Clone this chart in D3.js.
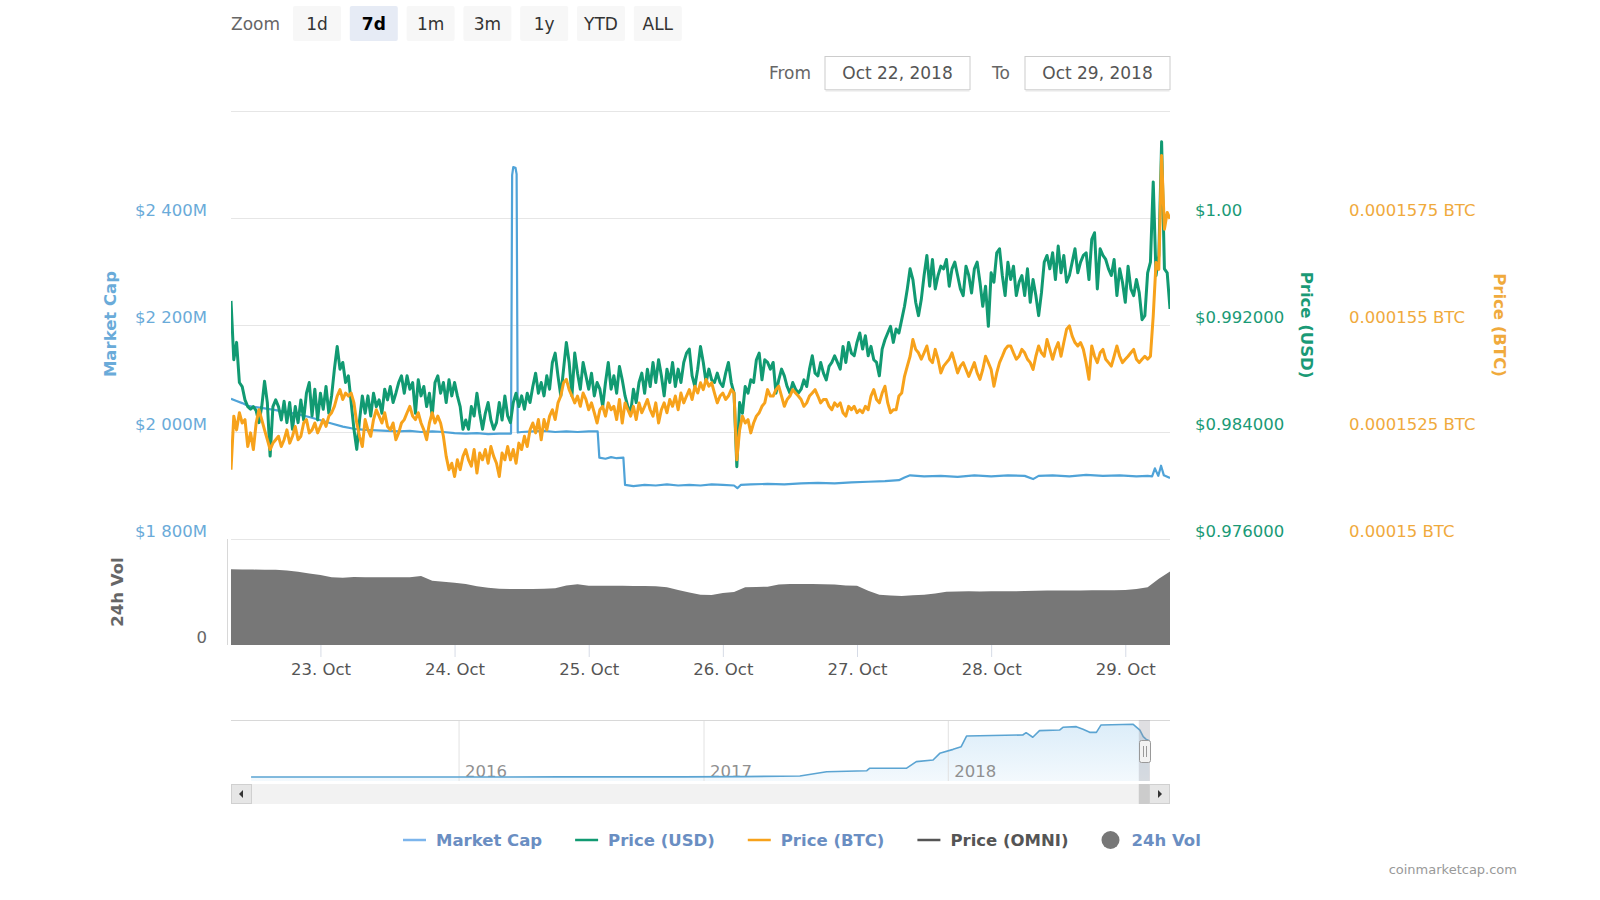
<!DOCTYPE html>
<html><head><meta charset="utf-8">
<script src="https://cdn.jsdelivr.net/npm/d3@7"></script>
<style>
body{margin:0;background:#fff;}
svg{display:block;}
</style></head><body>
<svg id="c" width="1600" height="900"></svg>
<script>
// ---------------- DATA ----------------
const startTime = "2018-10-22T08:00:00Z";
const endTime   = "2018-10-29T08:00:00Z";
const priceStepHours = 0.5;
// Price (USD), every 30 minutes
const priceUSD = [
0.9938,0.9894,0.9907,0.9877,0.9874,0.9864,0.9859,0.9857,0.9859,0.9856,
0.9847,0.9859,0.9878,0.9862,0.9822,0.9859,0.9864,0.9859,0.9849,0.9863,
0.9847,0.9862,0.9842,0.9859,0.9847,0.9864,0.9849,0.9869,0.9877,0.9852,
0.9872,0.9849,0.9869,0.9857,0.9874,0.9854,0.9867,0.9887,0.9904,0.9887,
0.9892,0.9877,0.9882,0.9862,0.9842,0.9827,0.9849,0.9867,0.9854,0.9867,
0.9852,0.9869,0.9859,0.9864,0.9854,0.9872,0.9864,0.9874,0.9862,0.9869,
0.9877,0.9882,0.9869,0.9882,0.9872,0.9877,0.9854,0.9879,0.9867,0.9874,
0.9859,0.9869,0.9852,0.9877,0.9882,0.9869,0.9877,0.9862,0.9879,0.9867,
0.9877,0.9867,0.9859,0.9842,0.9849,0.9842,0.9859,0.9852,0.9869,0.9854,
0.9842,0.9854,0.9862,0.9849,0.9842,0.9847,0.9862,0.9849,0.9867,0.9852,
0.9847,0.9862,0.9869,0.9859,0.9867,0.9857,0.9869,0.9862,0.9874,0.9884,
0.9869,0.9877,0.9867,0.9882,0.9872,0.9892,0.9899,0.9882,0.9867,0.9887,
0.9907,0.9892,0.9867,0.9899,0.9884,0.9872,0.9892,0.9882,0.9872,0.9884,
0.9867,0.9877,0.9872,0.9859,0.9877,0.9892,0.9872,0.9882,0.9869,0.9889,
0.9879,0.9867,0.9859,0.9854,0.9872,0.9862,0.9877,0.9884,0.9869,0.9887,
0.9874,0.9892,0.9877,0.9894,0.9882,0.9867,0.9887,0.9877,0.9892,0.9874,
0.9887,0.9877,0.9892,0.9899,0.9902,0.9882,0.9874,0.9887,0.9904,0.9892,
0.9877,0.9887,0.9879,0.9877,0.9884,0.9877,0.9874,0.9884,0.9892,0.9877,
0.9869,0.9814,0.9862,0.9854,0.9874,0.9869,0.9879,0.9877,0.9894,0.9899,
0.9879,0.9894,0.9892,0.9887,0.9892,0.9869,0.9879,0.9887,0.9882,0.9874,
0.9869,0.9877,0.9872,0.9869,0.9872,0.9879,0.9874,0.9887,0.9897,0.9884,
0.9882,0.9892,0.9884,0.9879,0.9889,0.9892,0.9897,0.9892,0.9887,0.9904,
0.9892,0.9907,0.9899,0.9897,0.9907,0.9914,0.9902,0.9912,0.9897,0.9904,
0.9894,0.9892,0.9882,0.9902,0.9909,0.9914,0.9919,0.9907,0.9917,0.9914,
0.9924,0.9934,0.9947,0.9962,0.9954,0.9937,0.9927,0.9939,0.9957,0.9972,
0.9949,0.9969,0.9947,0.9957,0.9964,0.9962,0.9969,0.9949,0.9962,0.9967,
0.9957,0.9947,0.9942,0.9964,0.9957,0.9944,0.9962,0.9967,0.9952,0.9934,
0.9949,0.9919,0.9959,0.9952,0.9974,0.9977,0.9957,0.9942,0.9967,0.9954,
0.9964,0.9942,0.9952,0.9957,0.9942,0.9962,0.9937,0.9954,0.9942,0.9927,
0.9944,0.9967,0.9972,0.9962,0.9974,0.9954,0.9979,0.9959,0.9972,0.9952,
0.9957,0.9967,0.9977,0.9959,0.9967,0.9972,0.9974,0.9954,0.9984,0.9989,
0.9947,0.9977,0.9972,0.9969,0.9962,0.9957,0.9969,0.9942,0.9962,0.9952,
0.9937,0.9964,0.9947,0.9942,0.9954,0.9944,0.9924,0.9927,0.9959,0.9967,
1.0027,0.9957,0.9972,1.0057,0.9962,0.9959,0.9932];
// Price (BTC) in satoshi (1e-8 BTC), every 30 minutes
const priceBTCsat = [
15162,15287,15255,15295,15271,15279,15216,15248,15209,15271,
15302,15279,15255,15232,15209,15224,15232,15240,15216,15232,
15255,15224,15240,15263,15232,15240,15271,15279,15248,15255,
15271,15248,15263,15279,15263,15287,15295,15310,15334,15349,
15326,15341,15334,15341,15318,15271,15240,15216,15279,15255,
15240,15279,15302,15287,15271,15295,15263,15255,15271,15232,
15248,15271,15279,15295,15310,15287,15279,15295,15271,15255,
15232,15271,15295,15271,15287,15271,15240,15193,15162,15177,
15146,15185,15162,15193,15209,15185,15170,15209,15154,15201,
15185,15209,15177,15216,15193,15177,15146,15201,15185,15216,
15185,15209,15177,15224,15209,15240,15216,15255,15271,15248,
15279,15232,15279,15255,15287,15302,15279,15318,15334,15365,
15373,15349,15334,15318,15334,15310,15341,15326,15302,15318,
15295,15271,15302,15310,15287,15318,15302,15310,15279,15326,
15271,15318,15302,15287,15310,15279,15318,15295,15310,15326,
15302,15287,15318,15271,15302,15318,15295,15326,15310,15334,
15302,15341,15318,15334,15349,15326,15357,15341,15365,15349,
15373,15357,15365,15341,15318,15334,15341,15326,15334,15349,
15341,15185,15255,15287,15271,15279,15248,15271,15287,15295,
15310,15318,15349,15334,15334,15349,15357,15334,15310,15326,
15334,15349,15341,15334,15326,15310,15318,15334,15341,15349,
15334,15318,15326,15326,15310,15302,15318,15310,15318,15295,
15287,15310,15302,15310,15295,15302,15295,15310,15302,15334,
15349,15326,15318,15341,15357,15318,15295,15302,15302,15334,
15341,15380,15404,15427,15466,15443,15435,15420,15435,15451,
15420,15412,15443,15420,15388,15404,15412,15420,15435,15412,
15388,15404,15412,15396,15380,15396,15412,15388,15373,15396,
15427,15412,15396,15357,15388,15412,15427,15443,15451,15451,
15435,15420,15427,15443,15435,15420,15412,15396,15427,15451,
15435,15427,15466,15443,15420,15443,15459,15427,15459,15490,
15498,15474,15459,15451,15459,15443,15412,15373,15451,15427,
15412,15435,15443,15420,15412,15404,15427,15451,15427,15412,
15420,15427,15435,15443,15420,15412,15420,15427,15420,15427,
15521,15646,15630,15896,15724,15763,15748];
// Market Cap ($M): hours after start, value
const mcapHours = [0,1,2,3,4,6,8,10,12,14,16,18,20,22,24,26,28,30,32,34,36,38,40,42,44,46,48,
  50.1,50.3,50.5,50.9,51.1,51.3,52,54,56,58,60,62,64,65.6,65.9,67,68,69,70.2,70.5,72,74,76,78,80,82,84,86,88,90,
  90.6,91.2,93,96,99,102,105,108,111,114,117,119.5,120.5,121.5,124,127,130,133,136,139,142,143.5,144.5,147,150,153,
  156,159,162,164,164.8,165.3,165.9,166.4,166.9,168];
const mcapValues = [2062,2058,2054,2049,2047,2044,2041,2037,2033,2028,2022,2016,2010,2006,2004,2003,2002,2001,2002,2000,2001,2000,1998,1997,1998,1996,1997,
  1997,2480,2495,2494,2482,1999,2000,2001,2002,2000,2001,2000,2001,2001,1952,1950,1953,1951,1952,1901,1899,1901,1900,1902,1900,1901,1900,1902,1901,1900,
  1895,1901,1902,1903,1902,1904,1905,1904,1906,1907,1908,1910,1915,1919,1917,1918,1916,1919,1917,1919,1918,1912,1918,1919,1917,1920,1918,
  1919,1917,1918,1917,1932,1918,1937,1919,1914];
// 24h Vol ($M), every 2 hours
const volStepHours = 2;
const volume24h = [2860,2850,2845,2840,2835,2810,2760,2700,2640,2560,2540,2570,2560,2560,2560,2555,2560,2600,2420,2390,
  2350,2300,2220,2160,2120,2110,2115,2110,2120,2140,2250,2290,2240,2235,2240,2235,2230,2225,2220,2180,
  2080,1980,1900,1890,1960,2000,2180,2190,2200,2280,2300,2300,2300,2295,2280,2250,2240,2050,1900,1870,
  1850,1880,1900,1940,2010,2020,2025,2020,2030,2025,2030,2035,2050,2055,2055,2060,2060,2070,2065,2070,
  2080,2110,2180,2500,2770];
// Navigator: full history of Market Cap ($M)
const navStart = "2015-01-26", navEnd = "2018-11-29";
const navDates = ["2015-02-25","2015-12-01","2016-06-01","2016-12-01","2017-03-01","2017-05-25","2017-07-04","2017-09-02","2017-09-06","2017-10-31",
  "2017-11-15","2017-12-10","2017-12-20","2018-01-09","2018-01-21","2018-01-29","2018-04-23","2018-04-28","2018-05-08","2018-05-18",
  "2018-06-17","2018-06-22","2018-07-12","2018-07-22","2018-08-01","2018-08-11","2018-08-18","2018-10-05","2018-10-15","2018-10-20",
  "2018-10-24","2018-10-29"];
const navValues = [0.25,1,5,8,20,53,280,333,460,460,
  810,900,1250,1460,1600,2165,2220,2340,2100,2450,
  2480,2625,2660,2520,2360,2360,2750,2785,2480,2130,
  2000,1915];
// Axis ticks
const mcapGrid  = [1800,2000,2200,2400,2600];
const mcapTicks = [1800,2000,2200,2400];
const usdTicks  = [0.976,0.984,0.992,1.00];
const btcTicks  = [0.00015,0.0001525,0.000155,0.0001575];
const zoomButtons = ["1d","7d","1m","3m","1y","YTD","ALL"];
const selectedZoom = "7d";
const fromLabel = "Oct 22, 2018", toLabel = "Oct 29, 2018";
const legendNames = ["Market Cap","Price (USD)","Price (BTC)","Price (OMNI)","24h Vol"];

// ---------------- STYLE / LAYOUT ----------------
const FONT = '"DejaVu Sans", sans-serif';
const C = {mcap:"#4fa3d8", usd:"#119a72", btc:"#f7a21b", omni:"#555555", vol:"#777777",
  mcapTxt:"#6aabd9", usdTxt:"#1a9a76", btcTxt:"#f0aa3c", grid:"#e6e6e6", legendTxt:"#6a8ec2"};
const legendColors = ["#7cb5ec", C.usd, C.btc, C.omni, C.vol];
const legendTextColors = [C.legendTxt, C.legendTxt, C.legendTxt, "#555555", C.legendTxt];
const L=231, R=1170, T=111, B=539, VB=645;
const H = 3600*1000;
const svg = d3.select("#c").style("font-family", FONT);
const t0 = new Date(startTime), t1 = new Date(endTime);

const x  = d3.scaleUtc().domain([t0,t1]).range([L,R]);
const yM = d3.scaleLinear().domain([1800,2600]).range([B,T]);
const yU = d3.scaleLinear().domain([0.976,1.008]).range([B,T]);
const yB = d3.scaleLinear().domain([0.00015,0.00016]).range([B,T]);
const yV = d3.scaleLinear().domain([0,4000]).range([VB,B]);

function styleAxis(g, color, size, anchor){
  g.attr("font-family", null).attr("font-size", null);
  g.select(".domain").remove();
  g.selectAll("text").attr("fill", color).style("font-size", size+"px").style("font-family", FONT);
  if(anchor) g.selectAll("text").attr("text-anchor", anchor);
}

// ---- range selector ----
svg.append("text").attr("x",231).attr("y",30).attr("fill","#666").style("font-size","17px").text("Zoom");
zoomButtons.forEach((b,i)=>{
  const bx = 293 + i*56.8;
  const sel = b===selectedZoom;
  svg.append("rect").attr("x",bx).attr("y",6).attr("width",48).attr("height",35).attr("rx",2)
    .attr("fill", sel ? "#e6ebf5" : "#f7f7f7");
  svg.append("text").attr("x",bx+24).attr("y",30).attr("text-anchor","middle")
    .attr("fill", sel ? "#000" : "#333").style("font-size","17px").style("font-weight", sel?"bold":"normal").text(b);
});
svg.append("text").attr("x",811).attr("y",79).attr("text-anchor","end").attr("fill","#666").style("font-size","17px").text("From");
svg.append("text").attr("x",1010).attr("y",79).attr("text-anchor","end").attr("fill","#666").style("font-size","17px").text("To");
[[824.5,fromLabel],[1024.5,toLabel]].forEach(([bx,lab])=>{
  svg.append("rect").attr("x",bx+0.5).attr("y",56.5).attr("width",145).attr("height",33).attr("fill","#fff").attr("stroke","#cccccc");
  svg.append("line").attr("x1",bx+1).attr("x2",bx+145).attr("y1",90.5).attr("y2",90.5).attr("stroke","#e8e8e8").attr("stroke-width",2);
  svg.append("text").attr("x",bx+73).attr("y",79).attr("text-anchor","middle").attr("fill","#555").style("font-size","17px").text(lab);
});

// ---- grid ----
svg.append("g").attr("transform",`translate(${L},0)`)
  .call(d3.axisLeft(yM).tickValues(mcapGrid).tickSize(-(R-L)).tickFormat(""))
  .call(g=>{g.select(".domain").remove(); g.selectAll("line").attr("stroke",C.grid);});

// ---- volume ----
const volData = volume24h.map((v,i)=>({t:new Date(+t0 + i*volStepHours*H), v}));
svg.append("path").datum(volData).attr("fill",C.vol)
  .attr("d", d3.area().x(d=>x(d.t)).y0(yV(0)).y1(d=>yV(d.v)));
svg.append("line").attr("x1",227.5).attr("x2",227.5).attr("y1",B).attr("y2",VB).attr("stroke","#d8d8d8");

// ---- lines ----
svg.append("clipPath").attr("id","clip").append("rect").attr("x",L).attr("y",T-10).attr("width",R-L).attr("height",B-T+10);
const plot = svg.append("g").attr("clip-path","url(#clip)");
const mcapData = mcapHours.map((h,i)=>({t:new Date(+t0 + h*H), v:mcapValues[i]}));
const usdData = priceUSD.map((v,i)=>({t:new Date(+t0 + i*priceStepHours*H), v}));
const btcData = priceBTCsat.map((v,i)=>({t:new Date(+t0 + i*priceStepHours*H), v:v*1e-8}));
plot.append("path").datum(mcapData).attr("fill","none").attr("stroke",C.mcap).attr("stroke-width",2.2)
  .attr("stroke-linejoin","round").attr("d", d3.line().x(d=>x(d.t)).y(d=>yM(d.v)));
plot.append("path").datum(usdData).attr("fill","none").attr("stroke",C.usd).attr("stroke-width",3)
  .attr("stroke-linejoin","round").attr("d", d3.line().x(d=>x(d.t)).y(d=>yU(d.v)));
plot.append("path").datum(btcData).attr("fill","none").attr("stroke",C.btc).attr("stroke-width",3)
  .attr("stroke-linejoin","round").attr("d", d3.line().x(d=>x(d.t)).y(d=>yB(d.v)));

// ---- axes ----
const fmtM = d => "$" + d3.format(",")(d).replace(/,/g," ") + "M";
svg.append("g").attr("transform","translate(207,0)")
  .call(d3.axisLeft(yM).tickValues(mcapTicks).tickSize(0).tickPadding(0).tickFormat(fmtM))
  .call(g=>{styleAxis(g,C.mcapTxt,16.5); g.selectAll("text").attr("dy",null).attr("y",-3);});
svg.append("g").attr("transform","translate(207,0)")
  .call(d3.axisLeft(yV).tickValues([0]).tickSize(0).tickPadding(0))
  .call(g=>{styleAxis(g,"#666",16.5); g.selectAll("text").attr("dy",null).attr("y",-3);});
svg.append("g").attr("transform","translate(1195,0)")
  .call(d3.axisRight(yU).tickValues(usdTicks).tickSize(0).tickPadding(0).tickFormat(d=> d===1 ? "$1.00" : "$"+d.toFixed(6)))
  .call(g=>{styleAxis(g,C.usdTxt,16.5); g.selectAll("text").attr("dy",null).attr("y",-3);});
svg.append("g").attr("transform","translate(1349,0)")
  .call(d3.axisRight(yB).tickValues(btcTicks).tickSize(0).tickPadding(0).tickFormat(d=> String(+d.toFixed(8)) + " BTC"))
  .call(g=>{styleAxis(g,C.btcTxt,16.5); g.selectAll("text").attr("dy",null).attr("y",-3);});
svg.append("g").attr("transform",`translate(0,${VB})`)
  .call(d3.axisBottom(x).ticks(d3.utcDay.every(1)).tickFormat(d3.utcFormat("%d. %b")).tickSize(12).tickPadding(6))
  .call(g=>{styleAxis(g,"#555",16.5); g.selectAll("line").attr("stroke","#d6dbe6");});

// axis titles
function rotTitle(txt, cx, cy, ang, color){
  svg.append("text").attr("transform",`translate(${cx},${cy}) rotate(${ang})`).attr("text-anchor","middle")
    .attr("fill",color).style("font-size","16.5px").style("font-weight","bold").text(txt);
}
rotTitle("Market Cap", 116, 324, -90, C.mcapTxt);
rotTitle("24h Vol", 123, 592, -90, "#666");
rotTitle("Price (USD)", 1301, 325, 90, C.usdTxt);
rotTitle("Price (BTC)", 1494, 325, 90, C.btcTxt);

// ---- navigator ----
const NT=720, NB=781;
const navX = d3.scaleUtc().domain([new Date(navStart+"T00:00:00Z"), new Date(navEnd+"T00:00:00Z")]).range([L,R]);
const navY = d3.scaleLinear().domain([0,2800]).range([777,724]);
const navData = navDates.map((d,i)=>({t:new Date(d+"T00:00:00Z"), v:navValues[i]}));
const defs = svg.append("defs");
const grad = defs.append("linearGradient").attr("id","navg").attr("x1",0).attr("y1",0).attr("x2",0).attr("y2",1);
grad.append("stop").attr("offset","0%").attr("stop-color","#dcedf9");
grad.append("stop").attr("offset","100%").attr("stop-color","#f3f9fd");
svg.append("path").datum(navData).attr("fill","url(#navg)")
  .attr("d", d3.area().x(d=>navX(d.t)).y0(NB).y1(d=>navY(d.v)));
svg.append("g").attr("transform",`translate(0,${NT})`)
  .call(d3.axisBottom(navX).ticks(d3.utcYear.every(1)).tickFormat(d3.utcFormat("%Y")).tickSize(NB-NT))
  .call(g=>{styleAxis(g,"#909090",16.5,"start"); g.selectAll("line").attr("stroke","#e2e2e2");
    g.selectAll("text").attr("x",6).attr("y",57).attr("dy",null);});
svg.append("path").datum(navData).attr("fill","none").attr("stroke","#5ba4d2").attr("stroke-width",1.6)
  .attr("stroke-linejoin","round").attr("d", d3.line().x(d=>navX(d.t)).y(d=>navY(d.v)));
svg.append("line").attr("x1",L).attr("x2",R).attr("y1",NT+0.5).attr("y2",NT+0.5).attr("stroke","#d8d8d8");
// selected range
const selX0 = navX(t0) - 6, selX1 = R - 20;
svg.append("rect").attr("x",selX0).attr("y",NT).attr("width",selX1-selX0).attr("height",NB-NT).attr("fill","rgba(150,150,160,0.3)");
svg.append("rect").attr("x",1139.5).attr("y",740.5).attr("width",11).attr("height",22).attr("rx",2)
  .attr("fill","#f2f2f2").attr("stroke","#999");
[1143.5,1146.5].forEach(lx=>svg.append("line").attr("x1",lx).attr("x2",lx).attr("y1",746).attr("y2",757).attr("stroke","#999"));
// scrollbar
const SY=784, SH=20;
svg.append("rect").attr("x",L).attr("y",SY).attr("width",R-L).attr("height",SH).attr("fill","#f2f2f2");
svg.append("rect").attr("x",selX0).attr("y",SY).attr("width",selX1-selX0).attr("height",SH).attr("fill","#cccccc");
svg.append("rect").attr("x",L+0.5).attr("y",SY+0.5).attr("width",20).attr("height",SH-1).attr("fill","#e6e6e6").attr("stroke","#d0d0d0");
svg.append("rect").attr("x",R-20.5).attr("y",SY+0.5).attr("width",20).attr("height",SH-1).attr("fill","#e6e6e6").attr("stroke","#d0d0d0");
svg.append("path").attr("d",`M${L+12},${SY+6} L${L+8},${SY+10} L${L+12},${SY+14} Z`).attr("fill","#333");
svg.append("path").attr("d",`M${R-12},${SY+6} L${R-8},${SY+10} L${R-12},${SY+14} Z`).attr("fill","#333");

// ---- legend ----
let lx = 403;
const LY = 840;
legendNames.forEach((n,i)=>{
  const g = svg.append("g");
  let tx;
  if(i===4){
    g.append("circle").attr("cx",lx+9).attr("cy",LY).attr("r",9).attr("fill",legendColors[i]);
    tx = lx + 30;
  } else {
    g.append("line").attr("x1",lx).attr("x2",lx+23).attr("y1",LY).attr("y2",LY).attr("stroke",legendColors[i]).attr("stroke-width",2.5);
    tx = lx + 33;
  }
  const t = g.append("text").attr("x",tx).attr("y",LY+6).attr("fill",legendTextColors[i])
    .style("font-size","16.5px").style("font-weight","bold").text(n);
  lx = tx + t.node().getComputedTextLength() + 33;
});

// credit
svg.append("text").attr("x",1517).attr("y",874).attr("text-anchor","end").attr("fill","#999").style("font-size","13px").text("coinmarketcap.com");
</script>
</body></html>
